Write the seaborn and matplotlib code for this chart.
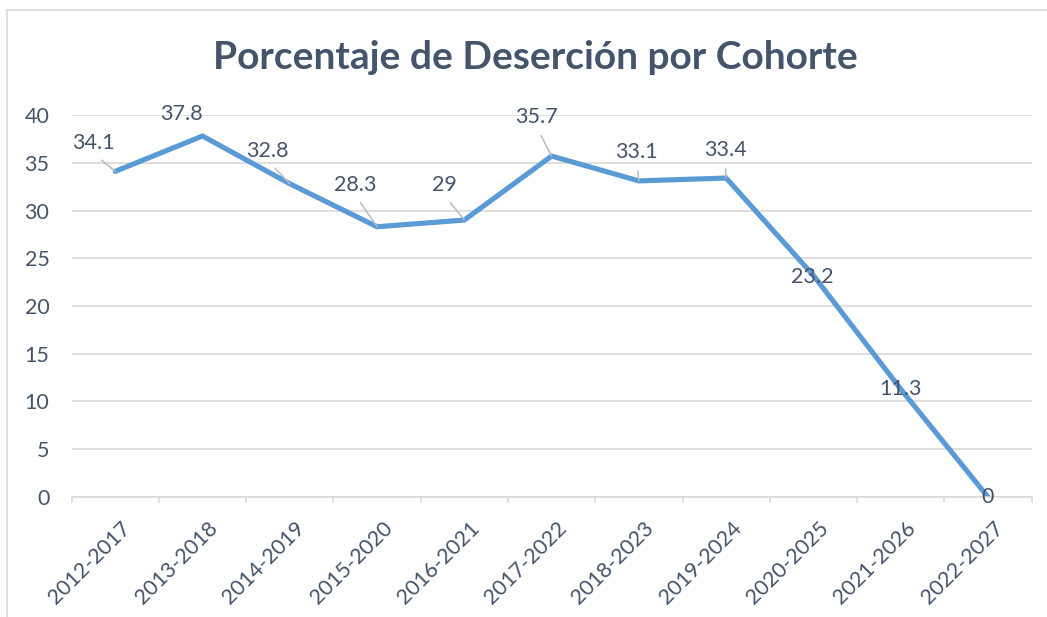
import matplotlib
matplotlib.use("Agg")
import matplotlib.pyplot as plt
import matplotlib.transforms as mtransforms
from matplotlib.lines import Line2D
import seaborn as sns

# =======================
# Data
# =======================
cohortes = ["2012-2017", "2013-2018", "2014-2019", "2015-2020", "2016-2021",
            "2017-2022", "2018-2023", "2019-2024", "2020-2025", "2021-2026",
            "2022-2027"]
desercion = [34.1, 37.8, 32.8, 28.3, 29, 35.7, 33.1, 33.4, 23.2, 11.3, 0]
y_ticks = [0, 5, 10, 15, 20, 25, 30, 35, 40]
titulo = "Porcentaje de Deserción por Cohorte"

# label offsets in pixels (dx, dy up) and whether a leader line is drawn
label_offsets = [(-22, 28), (-21, 22), (-22, 33), (-22, 42), (-20, 35),
                 (-15, 39), (-2, 29), (-1, 28), (-1, -2), (0, 0), (0, 0)]
leaders = [True, False, True, True, True, True, True, True, False, False, False]

# =======================
# Style
# =======================
TEXT_COLOR = "#44546A"
LINE_COLOR = "#5B9BD5"
GRID_COLOR = "#D9D9D9"
LEADER_COLOR = "#B4BCC6"
FS = 15.5

sns.set_theme(style="white")
plt.rcParams["font.family"] = ["Lato", "DejaVu Sans"]

fig = plt.figure(figsize=(10.47, 6.17), dpi=100)
ax = fig.add_axes([0.0684, 0.1945, 0.9169, 0.6191])

sns.lineplot(x=cohortes, y=desercion, sort=False, ax=ax,
             color=LINE_COLOR, linewidth=3.7, solid_capstyle="round",
             solid_joinstyle="miter")

ax.set_xlim(-0.5, len(cohortes) - 0.5)
ax.set_ylim(0, 40)
ax.set_yticks(y_ticks)
ax.set_yticklabels([str(v) for v in y_ticks], fontsize=FS, color=TEXT_COLOR)
ax.yaxis.grid(True, color=GRID_COLOR, linewidth=1.2)
ax.set_axisbelow(True)
ax.tick_params(axis="y", length=0, pad=16)

# x axis: labels at centres, small tick marks at band edges
ax.set_xticks(range(len(cohortes)))
ax.set_xticklabels(cohortes, fontsize=FS, color=TEXT_COLOR, rotation=45,
                   ha="right", va="top", rotation_mode="anchor")
ax.set_xticks([i - 0.5 for i in range(len(cohortes) + 1)], minor=True)
ax.tick_params(axis="x", which="major", length=0, pad=15)
ax.tick_params(axis="x", which="minor", length=4, width=1.2, color=GRID_COLOR,
               direction="out", bottom=True)
shift = mtransforms.ScaledTranslation(5 / 100, 0, fig.dpi_scale_trans)
for lbl in ax.get_xticklabels():
    lbl.set_transform(lbl.get_transform() + shift)

for side in ["top", "right", "left"]:
    ax.spines[side].set_visible(False)
ax.spines["bottom"].set_color(GRID_COLOR)
ax.spines["bottom"].set_linewidth(1.2)
ax.set_xlabel("")
ax.set_ylabel("")

# data labels
for i, (v, (dx, dy), lead) in enumerate(zip(desercion, label_offsets, leaders)):
    kw = {}
    if lead:
        kw["arrowprops"] = dict(arrowstyle="-", color=LEADER_COLOR, lw=1.1,
                                relpos=(0.5, 0), shrinkA=4, shrinkB=0)
    ax.annotate(f"{v:g}", xy=(i, v), xytext=(dx, dy), textcoords="offset pixels",
                ha="center", va="center", fontsize=FS, color=TEXT_COLOR,
                annotation_clip=False, **kw)

fig.text(0.511, 0.906, titulo, ha="center", va="center", fontsize=28,
         fontweight="bold", color=TEXT_COLOR)

# chart area border (left and top edges visible)
fig.add_artist(Line2D([7 / 1047, 7 / 1047], [0, 1 - 10 / 617],
                      transform=fig.transFigure, color=GRID_COLOR, lw=1.2))
fig.add_artist(Line2D([7 / 1047, 1], [1 - 10 / 617, 1 - 10 / 617],
                      transform=fig.transFigure, color=GRID_COLOR, lw=1.2))

fig.savefig("out.png", dpi=100, facecolor="white")
